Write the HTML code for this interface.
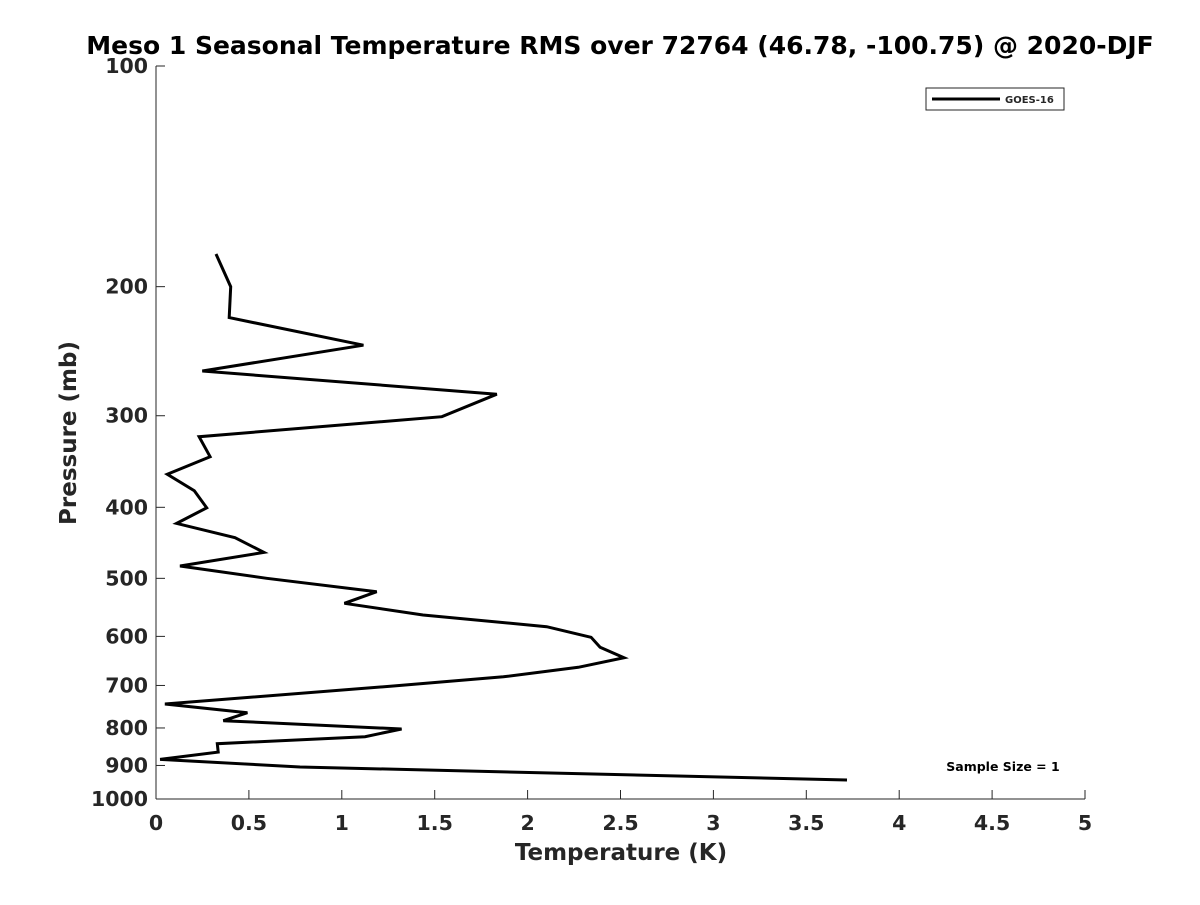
<!DOCTYPE html>
<html><head><meta charset="utf-8"><style>
body{margin:0;background:#fff;}
svg text{font-family:"DejaVu Sans","Liberation Sans",sans-serif;font-weight:bold;fill:#262626;}
</style></head><body>
<svg id="chart" width="1200" height="900" xmlns="http://www.w3.org/2000/svg">
<rect width="1200" height="900" fill="#fff"/>
<text x="620" y="54" font-size="25" text-anchor="middle" style="fill:#000">Meso 1 Seasonal Temperature RMS over 72764 (46.78, -100.75) @ 2020-DJF</text>
<g id="axes"></g>
<polyline id="series" fill="none" stroke="#000" stroke-width="3" stroke-linejoin="miter"/>
<rect x="926" y="88" width="138" height="22" fill="#fff" stroke="#262626" stroke-width="1"/>
<line x1="932" y1="99" x2="1000" y2="99" stroke="#000" stroke-width="3"/>
<text x="1005" y="103" font-size="10">GOES-16</text>
<text x="1003" y="771" font-size="12.5" text-anchor="middle" style="fill:#000">Sample Size = 1</text>
<text x="621" y="860" font-size="23" text-anchor="middle">Temperature (K)</text>
<text transform="translate(76,433) rotate(-90)" font-size="23" text-anchor="middle">Pressure (mb)</text>
</svg>
<script>
const temps=[0.323,0.402,0.394,1.116,0.249,1.834,1.539,0.232,0.291,0.061,0.206,0.273,0.111,0.425,0.581,0.129,0.596,1.188,1.014,1.437,2.103,2.342,2.390,2.519,2.273,1.870,1.277,0.048,0.492,0.362,1.322,1.125,0.330,0.335,0.022,0.775,3.719];
const pressures=[180.5,200,220.4,240.4,260.7,280.4,300.9,320.4,341.2,360.6,379.7,400.6,420.7,440.1,460.8,481,500,521.5,540.8,561,582,601.7,621,641.6,661.2,681.2,701.3,742,762.6,782,802.7,822.2,840.6,863,882.9,904.5,942.1];
const xTicks=[0,0.5,1,1.5,2,2.5,3,3.5,4,4.5,5];
const yTicks=[100,200,300,400,500,600,700,800,900,1000];
const X0=156,X1=1085,Y0=66,Y1=799;
function xs(v){return X0+(v/5)*(X1-X0);}
function ys(p){return Y0+Math.log10(p/100)*(Y1-Y0);}
const NS="http://www.w3.org/2000/svg";
const g=document.getElementById('axes');
function mk(t,a){const e=document.createElementNS(NS,t);for(const k in a)e.setAttribute(k,a[k]);g.appendChild(e);return e;}
let e=mk('line',{x1:X0,y1:Y1,x2:X1,y2:Y1,stroke:'#262626','stroke-width':1});


e=mk('line',{x1:X0,y1:Y0,x2:X0,y2:Y1,stroke:'#262626','stroke-width':1});


xTicks.forEach(v=>{
 const x=xs(v);
 let t=mk('line',{x1:x,y1:Y1,x2:x,y2:Y1-9,stroke:'#262626'});
 
 
 let l=mk('text',{x:x,y:Y1+31,'font-size':20.5,'text-anchor':'middle'});
 l.textContent=String(v);
 
 
});
yTicks.forEach(p=>{
 const y=ys(p);
 let t=mk('line',{x1:X0,y1:y,x2:X0+9,y2:y,stroke:'#262626'});
 
 
 let l=mk('text',{x:X0-8,y:y+7,'font-size':20.5,'text-anchor':'end'});
 l.textContent=String(p);
 
 
});
document.getElementById('series').setAttribute('points',temps.map((t,i)=>xs(t).toFixed(1)+','+ys(pressures[i]).toFixed(1)).join(' '));
</script>
</body></html>
